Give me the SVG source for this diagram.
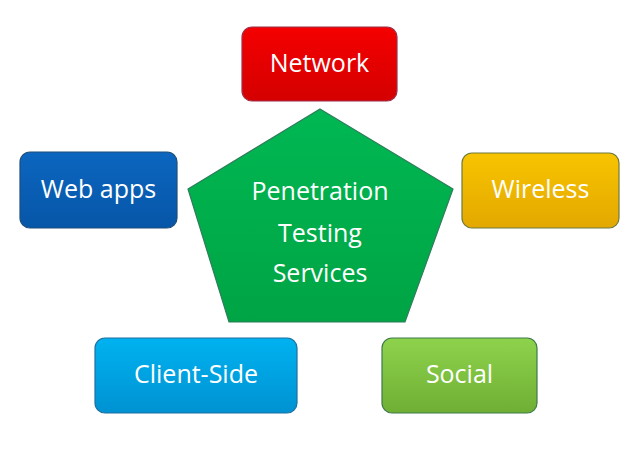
<svg xmlns="http://www.w3.org/2000/svg" width="639" height="464" viewBox="0 0 639 464">
<defs>
<linearGradient id="gRed" x1="0" y1="0" x2="0" y2="1"><stop offset="0" stop-color="#f50000"/><stop offset="1" stop-color="#d40000"/></linearGradient>
<linearGradient id="gBlue" x1="0" y1="0" x2="0" y2="1"><stop offset="0" stop-color="#0c66bf"/><stop offset="1" stop-color="#0656a8"/></linearGradient>
<linearGradient id="gGold" x1="0" y1="0" x2="0" y2="1"><stop offset="0" stop-color="#f8c400"/><stop offset="1" stop-color="#e3a800"/></linearGradient>
<linearGradient id="gCyan" x1="0" y1="0" x2="0" y2="1"><stop offset="0" stop-color="#00b2f0"/><stop offset="1" stop-color="#0092d2"/></linearGradient>
<linearGradient id="gLime" x1="0" y1="0" x2="0" y2="1"><stop offset="0" stop-color="#8ed34c"/><stop offset="1" stop-color="#6fae34"/></linearGradient>
<linearGradient id="gGreen" x1="0" y1="0" x2="0" y2="1"><stop offset="0" stop-color="#00b853"/><stop offset="1" stop-color="#00a444"/></linearGradient>
</defs>
<style>
.box{stroke-width:1.2}
.t{font-family:"Open Sans","Noto Sans","Liberation Sans",sans-serif;font-size:25px;fill:#ffffff;text-anchor:middle}
</style>
<rect width="639" height="464" fill="#ffffff"/>
<g id="connectors"></g>
<g id="center">
<polygon points="320,109 453,189 405,322 229,322 188,189" fill="url(#gGreen)" stroke="#2e7d5b" stroke-width="1.2"/>
<text class="t" x="320" y="200">Penetration</text>
<text class="t" x="320" y="242">Testing</text>
<text class="t" x="320" y="282">Services</text>
</g>
<g id="network">
<rect class="box" x="242" y="27" width="155" height="74" rx="10" fill="url(#gRed)" stroke="#9e2f4a"/>
<text class="t" x="319.5" y="72">Network</text>
</g>
<g id="webapps">
<rect class="box" x="20" y="152" width="157" height="76" rx="10" fill="url(#gBlue)" stroke="#1f4e79"/>
<text class="t" x="98.5" y="198">Web apps</text>
</g>
<g id="wireless">
<rect class="box" x="462" y="153" width="157" height="75" rx="10" fill="url(#gGold)" stroke="#6e7b3c"/>
<text class="t" x="540.5" y="198">Wireless</text>
</g>
<g id="clientside">
<rect class="box" x="95" y="338" width="202" height="75" rx="10" fill="url(#gCyan)" stroke="#1f6fa0"/>
<text class="t" x="196" y="383">Client-Side</text>
</g>
<g id="social">
<rect class="box" x="382" y="338" width="155" height="75" rx="10" fill="url(#gLime)" stroke="#3e7a4a"/>
<text class="t" x="459.5" y="383">Social</text>
</g>
</svg>
